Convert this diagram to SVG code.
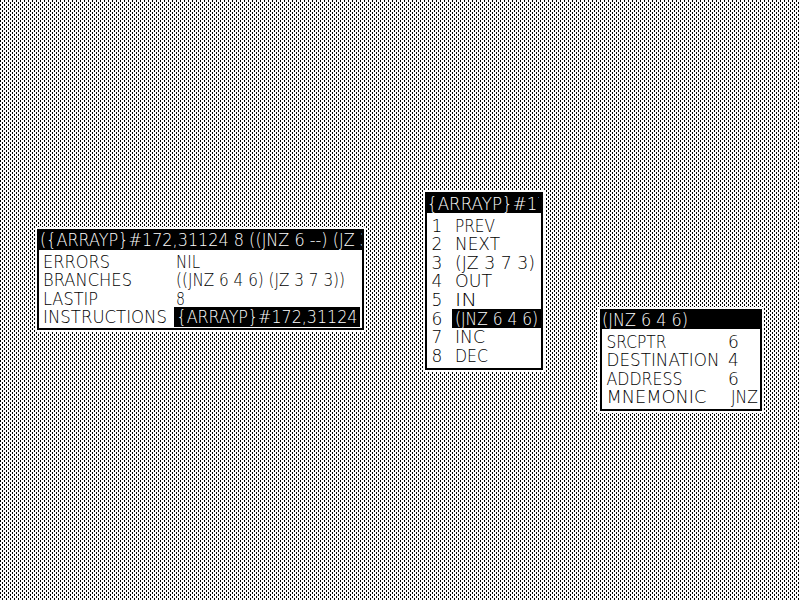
<svg xmlns="http://www.w3.org/2000/svg" width="800" height="600" viewBox="0 0 800 600">
<defs>
<pattern id="gray" width="4" height="4" patternUnits="userSpaceOnUse"><rect width="4" height="4" fill="#fff"/><path d="M0 0h1v2h-1zM2 2h1v2h-1z" fill="#000"/></pattern>
<clipPath id="c1"><rect x="39" y="229" width="323" height="99"/></clipPath>
<clipPath id="c2"><rect x="427" y="192" width="112" height="176"/></clipPath>
</defs>
<style>
text { font-family: "DejaVu Sans", "Liberation Sans", sans-serif; font-weight: 200; font-size: 17px; fill: #000; }
text.inv { fill: #fff; }
.win { opacity: 0.999; }
.margin { fill: #fff; }
.frame { fill: #fff; stroke: #000; stroke-width: 2; }
.bar { fill: #000; }
</style>
<rect id="background" width="800" height="600" fill="url(#gray)"/>
<g id="connectors"/>

<g id="inspector-main" class="win">
<rect class="margin" x="35" y="227" width="331" height="105"/>
<rect class="frame" x="38" y="230" width="325" height="99"/>
<rect class="bar" x="37" y="229" width="327" height="21"/>
<g clip-path="url(#c1)">
<text class="inv" x="40" y="246" textLength="330" lengthAdjust="spacingAndGlyphs">({ARRAYP}#172,31124 8 ((JNZ 6 --) (JZ 3</text>
</g>
<text x="43" y="267.5" textLength="67" lengthAdjust="spacingAndGlyphs">ERRORS</text>
<text x="43" y="286" textLength="89" lengthAdjust="spacingAndGlyphs">BRANCHES</text>
<text x="43" y="304.5" textLength="55" lengthAdjust="spacingAndGlyphs">LASTIP</text>
<text x="43" y="323" textLength="124" lengthAdjust="spacingAndGlyphs">INSTRUCTIONS</text>
<text x="176" y="267.5" textLength="24" lengthAdjust="spacingAndGlyphs">NIL</text>
<text x="176" y="286" textLength="169" lengthAdjust="spacingAndGlyphs">((JNZ 6 4 6) (JZ 3 7 3))</text>
<text x="176" y="304.5" textLength="9" lengthAdjust="spacingAndGlyphs">8</text>
<rect class="bar" x="174" y="307" width="186" height="20"/>
<text class="inv" x="176.5" y="323" textLength="181" lengthAdjust="spacingAndGlyphs">{ARRAYP}#172,31124</text>
</g>

<g id="inspector-array" class="win">
<rect class="margin" x="423" y="190" width="122" height="182"/>
<rect class="frame" x="426" y="193" width="116" height="176"/>
<rect class="bar" x="425" y="192" width="118" height="21"/>
<g clip-path="url(#c2)">
<text class="inv" x="427" y="209.5" textLength="190" lengthAdjust="spacingAndGlyphs">{ARRAYP}#172,31124</text>
</g>
<text x="431.5" y="231.5">1</text>
<text x="431.5" y="250.1">2</text>
<text x="431.5" y="268.7">3</text>
<text x="431.5" y="287.3">4</text>
<text x="431.5" y="305.9">5</text>
<text x="431.5" y="324.5">6</text>
<text x="431.5" y="343.1">7</text>
<text x="431.5" y="361.7">8</text>
<text x="455" y="231.5" textLength="40" lengthAdjust="spacingAndGlyphs">PREV</text>
<text x="455" y="250.1" textLength="45" lengthAdjust="spacingAndGlyphs">NEXT</text>
<text x="455" y="268.7" textLength="80" lengthAdjust="spacingAndGlyphs">(JZ 3 7 3)</text>
<text x="455" y="287.3" textLength="37" lengthAdjust="spacingAndGlyphs">OUT</text>
<text x="455" y="305.9" textLength="22" lengthAdjust="spacingAndGlyphs">IN</text>
<rect class="bar" x="452" y="309" width="89" height="19"/>
<text class="inv" x="455" y="324.5" textLength="83" lengthAdjust="spacingAndGlyphs">(JNZ 6 4 6)</text>
<text x="455" y="343.1" textLength="30" lengthAdjust="spacingAndGlyphs">INC</text>
<text x="455" y="361.7" textLength="33" lengthAdjust="spacingAndGlyphs">DEC</text>
</g>

<g id="inspector-instruction" class="win">
<rect class="margin" x="598" y="307" width="166" height="106"/>
<rect class="frame" x="601" y="310" width="160" height="100"/>
<rect class="bar" x="600" y="309" width="162" height="20"/>
<text class="inv" x="602" y="325.5" textLength="86" lengthAdjust="spacingAndGlyphs">(JNZ 6 4 6)</text>
<text x="606.5" y="347.5" textLength="60" lengthAdjust="spacingAndGlyphs">SRCPTR</text>
<text x="606.5" y="366" textLength="113" lengthAdjust="spacingAndGlyphs">DESTINATION</text>
<text x="606.5" y="384.5" textLength="76" lengthAdjust="spacingAndGlyphs">ADDRESS</text>
<text x="606.5" y="403" textLength="100" lengthAdjust="spacingAndGlyphs">MNEMONIC</text>
<text x="728" y="347.5">6</text>
<text x="728" y="366">4</text>
<text x="728" y="384.5">6</text>
<text x="731" y="403" textLength="27" lengthAdjust="spacingAndGlyphs">JNZ</text>
</g>
</svg>
